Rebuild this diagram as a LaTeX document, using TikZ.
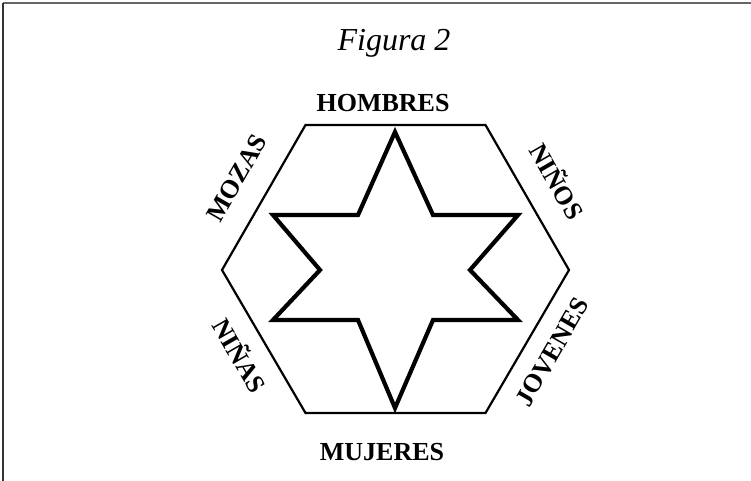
\documentclass[tikz,border=0pt]{standalone}
\usepackage{fontspec}
\setmainfont{Liberation Serif}
\usepackage{tikz}
\usetikzlibrary{positioning}
\tikzstyle{label} = [font=\fontsize{26}{26}\selectfont\bfseries, inner sep=0pt, text height=17pt, text depth=0pt]
\tikzstyle{title} = [font=\fontsize{32}{32}\selectfont\itshape, inner sep=0pt, text height=21pt, text depth=0pt]
\tikzset{
  hexline/.style ={draw, line width=2.2pt},
  starline/.style ={draw, line width=4.2pt, miter limit=20}
}

\begin{document}
\begin{tikzpicture}[x=1pt,y=-1pt]
  \useasboundingbox (0,0) rectangle (751,481);
  % frame
  \draw[line width=2pt, black!60] (3,3) -- (751,3);
  \draw[line width=2pt, black!80] (3,3) -- (3,481);

  \node[title] (fig) at (394,40) {Figura 2};

  % hexagon
  \path[hexline] (305.5,125) -- (485.5,125) -- (569,270) -- (485.5,413)
    -- (305.5,413) -- (222,270) -- cycle;

  % star
  \path[starline] (395,132) -- (433,215) -- (518,215) -- (470,270) -- (518,320)
    -- (433,320) -- (395,408) -- (358,320) -- (273,320) -- (320,270)
    -- (273,215) -- (358,215) -- cycle;

  \node[label] (hombres) at (383,103) {HOMBRES};
  \node[label] (mujeres) at (382,452) {MUJERES};
  \node[label,rotate=60] (mozas) at (237,178) {MOZAS};
  \node[label,rotate=-60] (ninos) at (556,182) {NIÑOS};
  \node[label,rotate=-60] (ninas) at (239,356) {NIÑAS};
  \node[label,rotate=60] (jovenes) at (552,352) {JOVENES};

\end{tikzpicture}
\end{document}
